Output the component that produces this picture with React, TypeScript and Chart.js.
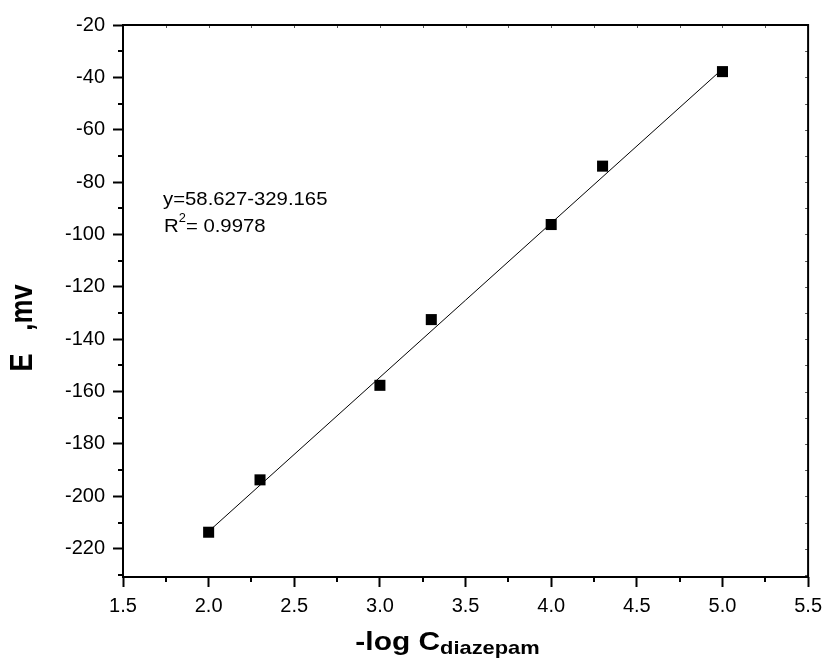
import React, { useEffect, useRef } from 'react';
import { Chart, registerables } from 'chart.js';

Chart.register(...registerables);

// ---- data ----
const logConc = [2.0, 2.3, 3.0, 3.3, 4.0, 4.3, 5.0];
const potentialMv = [-213.7, -193.7, -157.6, -132.5, -96.2, -73.9, -37.8];
const fitLineX = [2.0, 5.0];
const fitLineY = [-213.4, -36.8];
const xMajorTicks = [1.5, 2.0, 2.5, 3.0, 3.5, 4.0, 4.5, 5.0, 5.5];
const xMinorTicks = [1.75, 2.25, 2.75, 3.25, 3.75, 4.25, 4.75, 5.25];
const yMajorTicks = [-220, -200, -180, -160, -140, -120, -100, -80, -60, -40, -20];
const yMinorTicks = [-230, -210, -190, -170, -150, -130, -110, -90, -70, -50, -30];
const xRange = [1.5, 5.5];
const yRange = [-230.8, -20];
const equationLine = 'y=58.627-329.165';
const r2Label = 'R';
const r2Sup = '2';
const r2Value = '= 0.9978';
const xTitleMain = '-log C';
const xTitleSub = 'diazepam';
const yTitle = 'E   ,mv';

const FONT = '"Liberation Sans", Arial, Helvetica, sans-serif';

const decorPlugin = {
  id: 'decor',
  afterDraw(chart: any) {
    const ctx = chart.ctx as CanvasRenderingContext2D;
    const { left, right, top, bottom } = chart.chartArea;
    const xs = chart.scales.x;
    const ys = chart.scales.y;
    ctx.save();
    ctx.strokeStyle = '#000';
    ctx.fillStyle = '#000';

    // minor outward ticks (bottom & left)
    ctx.lineWidth = 2;
    ctx.beginPath();
    for (const v of xMinorTicks) {
      const px = Math.round(xs.getPixelForValue(v));
      ctx.moveTo(px, bottom);
      ctx.lineTo(px, bottom + 5);
    }
    for (const v of yMinorTicks) {
      const py = Math.round(ys.getPixelForValue(v));
      ctx.moveTo(left, py);
      ctx.lineTo(left - 5, py);
    }
    ctx.stroke();

    // faint inward ticks on top & right
    ctx.lineWidth = 1;
    ctx.strokeStyle = '#555';
    ctx.beginPath();
    for (const v of [...xMajorTicks, ...xMinorTicks]) {
      const px = Math.round(xs.getPixelForValue(v)) + 0.5;
      ctx.moveTo(px, top);
      ctx.lineTo(px, top + 3);
    }
    for (const v of [...yMajorTicks, ...yMinorTicks]) {
      const py = Math.round(ys.getPixelForValue(v)) + 0.5;
      ctx.moveTo(right, py);
      ctx.lineTo(right - 3, py);
    }
    ctx.stroke();

    // frame
    ctx.strokeStyle = '#000';
    ctx.lineWidth = 2;
    ctx.strokeRect(left, top, right - left, bottom - top);

    // annotation (slightly widened like the reference)
    ctx.textAlign = 'left';
    ctx.textBaseline = 'alphabetic';
    const ax = left + 40;
    ctx.save();
    ctx.translate(ax, 0);
    ctx.scale(1.07, 1);
    ctx.font = `19px ${FONT}`;
    ctx.fillText(equationLine, 0, 205);
    ctx.fillText(r2Label, 1, 231.5);
    const rW = ctx.measureText(r2Label).width;
    ctx.font = `12px ${FONT}`;
    ctx.fillText(r2Sup, 1 + rW, 222);
    const sW = ctx.measureText(r2Sup).width;
    ctx.font = `19px ${FONT}`;
    ctx.fillText(r2Value, 1 + rW + sW, 231.5);
    ctx.restore();

    // x title with subscript
    const sx = 1.15;
    ctx.font = `bold 26px ${FONT}`;
    const mW = ctx.measureText(xTitleMain).width;
    ctx.font = `bold 19px ${FONT}`;
    const subW = ctx.measureText(xTitleSub).width;
    const total = (mW + subW) * sx;
    const startX = 447.5 - total / 2;
    ctx.save();
    ctx.translate(startX, 0);
    ctx.scale(sx, 1);
    ctx.font = `bold 26px ${FONT}`;
    ctx.fillText(xTitleMain, 0, 650);
    ctx.font = `bold 19px ${FONT}`;
    ctx.fillText(xTitleSub, mW, 654);
    ctx.restore();

    // y title rotated
    ctx.save();
    ctx.translate(31.5, 328);
    ctx.rotate(-Math.PI / 2);
    ctx.scale(1, 1.15);
    ctx.font = `bold 27px ${FONT}`;
    ctx.textAlign = 'center';
    ctx.fillText(yTitle, 0, 0);
    ctx.restore();

    ctx.restore();
  },
};

export default function App() {
  const ref = useRef<HTMLCanvasElement | null>(null);
  useEffect(() => {
    if (!ref.current) return;
    const chart = new Chart(ref.current, {
      type: 'scatter',
      data: {
        datasets: [
          {
            label: 'measured',
            data: logConc.map((x, i) => ({ x, y: potentialMv[i] })),
            pointStyle: 'rect',
            pointRadius: 7.8,
            pointHoverRadius: 7.8,
            backgroundColor: '#000',
            borderColor: '#000',
            borderWidth: 0,
            showLine: false,
          },
          {
            label: 'fit',
            type: 'line',
            data: fitLineX.map((x, i) => ({ x, y: fitLineY[i] })),
            borderColor: '#000',
            borderWidth: 1,
            pointRadius: 0,
            fill: false,
            tension: 0,
          } as any,
        ],
      },
      options: {
        animation: false,
        responsive: false,
        maintainAspectRatio: false,
        events: [],
        layout: { padding: { left: 0, top: 25, right: 17, bottom: 0 } },
        plugins: {
          legend: { display: false },
          tooltip: { enabled: false },
          title: { display: false },
        },
        scales: {
          x: {
            type: 'linear',
            min: xRange[0],
            max: xRange[1],
            afterBuildTicks: (s: any) => {
              s.ticks = xMajorTicks.map((v) => ({ value: v }));
            },
            afterFit: (s: any) => {
              s.height = 87;
            },
            ticks: {
              callback: (v: any) => Number(v).toFixed(1),
              color: '#000',
              font: { family: FONT, size: 20 },
              padding: 7,
              maxRotation: 0,
              autoSkip: false,
            },
            grid: {
              display: true,
              drawOnChartArea: false,
              drawTicks: true,
              tickLength: 10,
              tickWidth: 2,
              tickColor: '#000',
              color: '#000',
            },
            border: { display: false },
          },
          y: {
            type: 'linear',
            min: yRange[0],
            max: yRange[1],
            afterBuildTicks: (s: any) => {
              s.ticks = yMajorTicks.map((v) => ({ value: v }));
            },
            afterFit: (s: any) => {
              s.width = 123;
            },
            ticks: {
              callback: (v: any) => String(v),
              color: '#000',
              font: { family: FONT, size: 20 },
              padding: 8,
              autoSkip: false,
            },
            grid: {
              display: true,
              drawOnChartArea: false,
              drawTicks: true,
              tickLength: 10,
              tickWidth: 2,
              tickColor: '#000',
              color: '#000',
            },
            border: { display: false },
          },
        },
      },
      plugins: [decorPlugin],
    });
    return () => chart.destroy();
  }, []);

  return (
    <div style={{ position: 'fixed', left: 0, top: 0, width: 829, height: 664, background: '#fff' }}>
      <canvas ref={ref} width={829} height={664} style={{ display: 'block', width: 829, height: 664 }} />
    </div>
  );
}
